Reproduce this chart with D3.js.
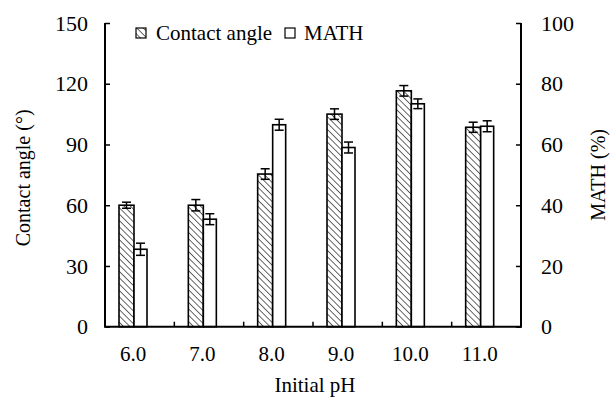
<!DOCTYPE html>
<html><head><meta charset="utf-8">
<script src="https://cdn.jsdelivr.net/npm/d3@7"></script>
<style>html,body{margin:0;padding:0;background:#fff;}svg{display:block;font-family:"Liberation Serif","Times New Roman",serif;}</style>
</head><body>
<svg id="chart" width="611" height="398"></svg>
<script>
const categories = ["6.0","7.0","8.0","9.0","10.0","11.0"];
const contactAngle = [60, 60, 75.4, 105, 116.5, 98.5];
const contactErr = [1.5, 2.8, 2.6, 2.6, 2.6, 2.5];
const mathValues = [25.5, 35.4, 66.5, 59, 73.4, 66];
const mathErr = [2, 1.8, 1.8, 1.8, 1.6, 1.8];
const leftTicks = [0, 30, 60, 90, 120, 150];
const rightTicks = [0, 20, 40, 60, 80, 100];

const svg = d3.select("#chart");
const L = 105, R = 521, T = 23, B = 326.7;
const x = d3.scaleBand().domain(categories).range([L, R]).padding(0);
const yL = d3.scaleLinear().domain([0, 150]).range([B, T]);
const yR = d3.scaleLinear().domain([0, 100]).range([B, T]);
const hatchW = 15, whiteW = 13, offset = 14;

const defs = svg.append("defs");
const pat = defs.append("pattern").attr("id", "hatch").attr("patternUnits", "userSpaceOnUse")
  .attr("width", 4.5).attr("height", 4.5).attr("patternTransform", "rotate(-45)");
pat.append("rect").attr("width", 4.5).attr("height", 4.5).attr("fill", "#fff");
pat.append("line").attr("x1", 0).attr("y1", 0).attr("x2", 0).attr("y2", 4.5)
  .attr("stroke", "#000").attr("stroke-width", 1.2);

// bars
const g = svg.append("g");
categories.forEach((c, i) => {
  const x0 = x(c) + offset;
  g.append("rect").attr("x", x0).attr("y", yL(contactAngle[i]))
    .attr("width", hatchW).attr("height", B - yL(contactAngle[i]))
    .attr("fill", "url(#hatch)").attr("stroke", "#000").attr("stroke-width", 1.6);
  g.append("rect").attr("x", x0 + hatchW).attr("y", yR(mathValues[i]))
    .attr("width", whiteW).attr("height", B - yR(mathValues[i]))
    .attr("fill", "#fff").attr("stroke", "#000").attr("stroke-width", 1.6);
  const eb = (cx, y, vhi, vlo) => {
    g.append("line").attr("x1", cx).attr("x2", cx).attr("y1", y(vhi)).attr("y2", y(vlo)).attr("stroke", "#000").attr("stroke-width", 1.5);
    [vhi, vlo].forEach(v => g.append("line").attr("x1", cx - 4.5).attr("x2", cx + 4.5).attr("y1", y(v)).attr("y2", y(v)).attr("stroke", "#000").attr("stroke-width", 1.5));
  };
  eb(x0 + hatchW / 2, yL, contactAngle[i] + contactErr[i], contactAngle[i] - contactErr[i]);
  eb(x0 + hatchW + whiteW / 2, yR, mathValues[i] + mathErr[i], mathValues[i] - mathErr[i]);
});

// axes
const leftAxis = d3.axisLeft(yL).tickValues(leftTicks).tickSize(-5).tickPadding(17);
const rightAxis = d3.axisRight(yR).tickValues(rightTicks).tickSize(-5).tickPadding(20);
const styleAxis = sel => {
  sel.select(".domain").attr("stroke", "#000").attr("stroke-width", 2).attr("d", `M0,${T}V${B}`).attr("fill", "none");
  sel.selectAll(".tick line").attr("stroke", "#000").attr("stroke-width", 1.5);
  sel.selectAll("text").attr("font-family", "Liberation Serif").attr("font-size", 22).attr("fill", "#000");
};
svg.append("g").attr("transform", `translate(${L},0)`).call(leftAxis).call(styleAxis);
svg.append("g").attr("transform", `translate(${R},0)`).call(rightAxis).call(styleAxis);

// bottom axis: line + boundary ticks
svg.append("line").attr("x1", L - 1).attr("x2", R + 1).attr("y1", B).attr("y2", B).attr("stroke", "#000").attr("stroke-width", 2);
categories.slice(1).forEach(c => {
  svg.append("line").attr("x1", x(c)).attr("x2", x(c)).attr("y1", B).attr("y2", B - 5).attr("stroke", "#000").attr("stroke-width", 1.5);
});
svg.append("g").selectAll("text").data(categories).join("text")
  .attr("x", c => x(c) + offset + (hatchW + whiteW) / 2).attr("y", 361)
  .attr("text-anchor", "middle").attr("font-size", 21).text(c => c);

// axis titles
svg.append("text").attr("x", 315).attr("y", 392).attr("text-anchor", "middle").attr("font-size", 21).text("Initial pH");
svg.append("text").attr("transform", `translate(30,${(T + B) / 2 + 3}) rotate(-90)`).attr("text-anchor", "middle").attr("font-size", 20).text("Contact angle (°)");
svg.append("text").attr("transform", `translate(605,${(T + B) / 2}) rotate(-90)`).attr("text-anchor", "middle").attr("font-size", 20).text("MATH (%)");

// legend
const lg = svg.append("g");
lg.append("rect").attr("x", 136).attr("y", 28).attr("width", 10).attr("height", 10).attr("fill", "url(#hatch)").attr("stroke", "#000").attr("stroke-width", 1.2);
lg.append("text").attr("x", 156).attr("y", 40).attr("font-size", 21).text("Contact angle");
lg.append("rect").attr("x", 285).attr("y", 28).attr("width", 10).attr("height", 10).attr("fill", "#fff").attr("stroke", "#000").attr("stroke-width", 1.2);
lg.append("text").attr("x", 304).attr("y", 40).attr("font-size", 21).text("MATH");
</script>
</body></html>
